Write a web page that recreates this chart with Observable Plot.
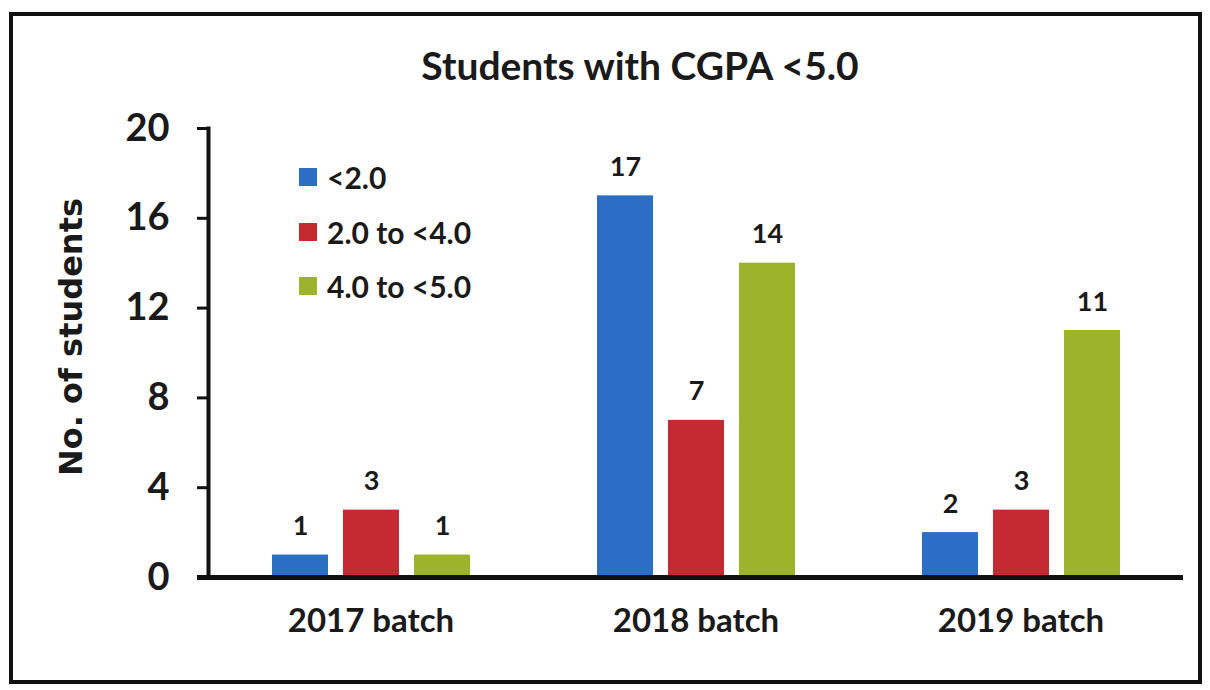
<!DOCTYPE html>
<html><head><meta charset="utf-8">
<script src="https://cdn.jsdelivr.net/npm/d3@7"></script>
<script src="https://cdn.jsdelivr.net/npm/@observablehq/plot@0.6"></script>
<style>
body{margin:0;background:#fff;font-family:Lato,"Open Sans",sans-serif;color:#1a1a1a;}
#wrap{position:relative;width:1210px;height:690px;overflow:hidden;background:#fff;}
#frame{position:absolute;left:9px;top:12px;width:1193px;height:672px;border:4px solid #111;box-sizing:border-box;}
#title{position:absolute;left:0;width:1280px;top:42px;text-align:center;font-size:39px;font-weight:bold;line-height:46px;}
#chart{position:absolute;left:0;top:100px;}
#legend{position:absolute;left:299px;top:164px;}
.li{display:flex;align-items:center;height:26px;margin-bottom:28.5px;font-size:30px;font-weight:bold;}
.sw{width:18px;height:18px;margin-right:10px;}
</style></head>
<body><div id="wrap"><div id="frame"></div><div id="title"></div><div id="chart"></div><div id="legend"></div></div>
<script>
const batches = ["2017 batch", "2018 batch", "2019 batch"];
const ranges = ["<2.0", "2.0 to <4.0", "4.0 to <5.0"];
const below2 = [1, 17, 2];
const from2to4 = [3, 7, 3];
const from4to5 = [1, 14, 11];
const colors = ["#2a6ec6", "#c42b30", "#9db32c"];
const yTicks = [0, 4, 8, 12, 16, 20];
const titleText = "Students with CGPA <5.0";
const yLabel = "No. of students";

const series = [below2, from2to4, from4to5];
const rows = [];
batches.forEach((b, i) => ranges.forEach((r, j) => rows.push({batch: b, range: r, value: series[j][i]})));

const chart = Plot.plot({
  width: 1210, height: 590,
  marginTop: 28, marginBottom: 113, marginLeft: 208, marginRight: 27,
  style: {fontFamily: "Lato, 'Open Sans', sans-serif", color: "#1a1a1a", background: "transparent"},
  fx: {domain: batches, padding: 0, label: null},
  x: {domain: ranges, paddingInner: 0.217, paddingOuter: 0.88, axis: null},
  y: {domain: [0, 20], ticks: yTicks},
  color: {domain: ranges, range: colors},
  marks: [
    Plot.barY(rows, {fx: "batch", x: "range", y: "value", fill: "range"}),
    Plot.text(rows, {fx: "batch", x: "range", y: "value", text: "value", dy: -20, lineAnchor: "bottom", fontSize: 27, fontWeight: "bold", fill: "#1a1a1a"}),
    Plot.ruleY([0], {strokeWidth: 5, insetLeft: -11, stroke: "#111"}),
    Plot.frame({anchor: "left", facetAnchor: "left", strokeWidth: 4, stroke: "#111"}),
    Plot.axisY({ticks: yTicks, tickSize: 11, tickPadding: 28, strokeWidth: 3, stroke: "#111", fontSize: 38, fontWeight: "bold", label: null}),
    Plot.text([yLabel], {frameAnchor: "left", facetAnchor: "left", text: d => d, textAnchor: "middle", lineAnchor: "middle", rotate: -90, dx: -137, dy: -16, fontFamily: "DejaVu Sans", fontWeight: "bold", fontSize: 32, fill: "#1a1a1a"}),
    Plot.axisFx({anchor: "bottom", tickSize: 0, tickPadding: 31, fontSize: 33, fontWeight: "bold", label: null})
  ]
});
document.getElementById("chart").appendChild(chart);
document.getElementById("title").textContent = titleText;
const lg = document.getElementById("legend");
ranges.forEach((r, j) => {
  const d = document.createElement("div"); d.className = "li";
  const s = document.createElement("div"); s.className = "sw"; s.style.background = colors[j];
  const t = document.createElement("span"); t.textContent = r;
  d.appendChild(s); d.appendChild(t); lg.appendChild(d);
});
</script></body></html>
